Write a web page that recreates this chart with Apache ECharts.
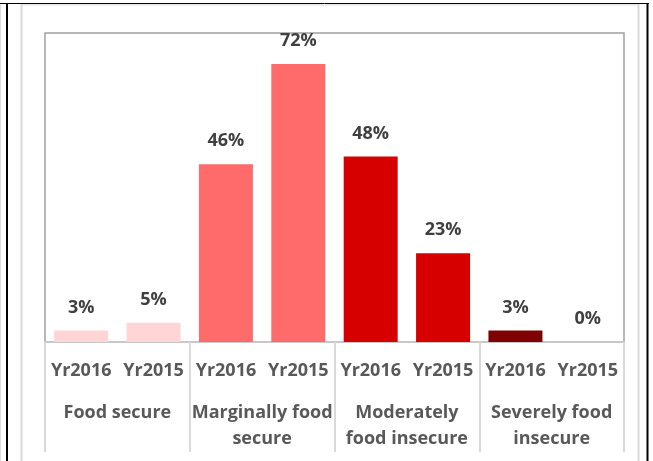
<!DOCTYPE html>
<html>
<head>
<meta charset="utf-8">
<style>
  html, body { margin: 0; padding: 0; background: #ffffff; }
  #chart { width: 653px; height: 461px; }
</style>
<script src="https://cdn.jsdelivr.net/npm/echarts@6/dist/echarts.min.js"></script>
</head>
<body>
<div id="chart"></div>
<script>
// Food security status by survey year
const groups = ['Food secure', 'Marginally food\nsecure', 'Moderately\nfood insecure', 'Severely food\ninsecure'];
const years = ['Yr2016', 'Yr2015'];
const values = [3, 5, 46, 72, 48, 23, 3, 0];          // percent, two years per group
const groupColors = ['#FFD5D5', '#FF6B6B', '#D70000', '#7F0000'];

const yearLabels = [];
groups.forEach(() => years.forEach(y => yearLabels.push(y)));

const barData = values.map((v, i) => ({
  value: v,
  itemStyle: { color: groupColors[Math.floor(i / years.length)] }
}));

const FONT = '"Open Sans"';
const chart = echarts.init(document.getElementById('chart'), null, { renderer: 'canvas' });

// frame lines around the chart cell
function vline(x, y1, y2, color, w) {
  return { type: 'line', shape: { x1: x, y1: y1, x2: x, y2: y2 }, style: { stroke: color, lineWidth: w }, silent: true };
}
function hline(y, x1, x2, color, w) {
  return { type: 'line', shape: { x1: x1, y1: y, x2: x2, y2: y }, style: { stroke: color, lineWidth: w }, silent: true };
}

chart.setOption({
  animation: false,
  backgroundColor: '#ffffff',
  grid: { left: 45, right: 29, top: 33, bottom: 119, show: true, borderColor: '#a0a0a0', borderWidth: 1.5 },
  xAxis: [
    {
      type: 'category',
      data: yearLabels,
      position: 'bottom',
      axisLine: { show: true, lineStyle: { color: '#c8c8c8', width: 2 } },
      axisTick: { show: false },
      axisLabel: { color: '#595959', fontFamily: FONT, fontWeight: 'bold', fontSize: 18, margin: 20, interval: 0 }
    },
    {
      type: 'category',
      data: groups,
      position: 'bottom',
      offset: 0,
      axisLine: { show: false },
      axisTick: { show: true, length: 110, lineStyle: { color: '#d9d9d9', width: 2 } },
      axisLabel: { color: '#595959', fontFamily: FONT, fontWeight: 'bold', fontSize: 18, lineHeight: 26, margin: 58, interval: 0 }
    }
  ],
  yAxis: { type: 'value', min: 0, max: 80, show: false, splitLine: { show: false } },
  series: [{
    type: 'bar',
    xAxisIndex: 0,
    data: barData,
    barWidth: 54,
    label: {
      show: true,
      position: 'top',
      distance: 14,
      formatter: p => p.value + '%',
      color: '#404040',
      fontFamily: FONT,
      fontWeight: 'bold',
      fontSize: 18
    }
  }],
  graphic: [
    hline(3.5, 0, 649, '#000000', 1),
    vline(7, 3, 461, '#000000', 2),
    vline(647.5, 3, 461, '#000000', 2),
    vline(0.5, 4, 461, '#dcdcdc', 1),
    vline(21.5, 4, 461, '#d9d9d9', 2),
    vline(638.5, 4, 461, '#d9d9d9', 2),
    hline(5, 22, 638, '#e6e6e6', 1.5)
  ]
});
</script>
</body>
</html>
